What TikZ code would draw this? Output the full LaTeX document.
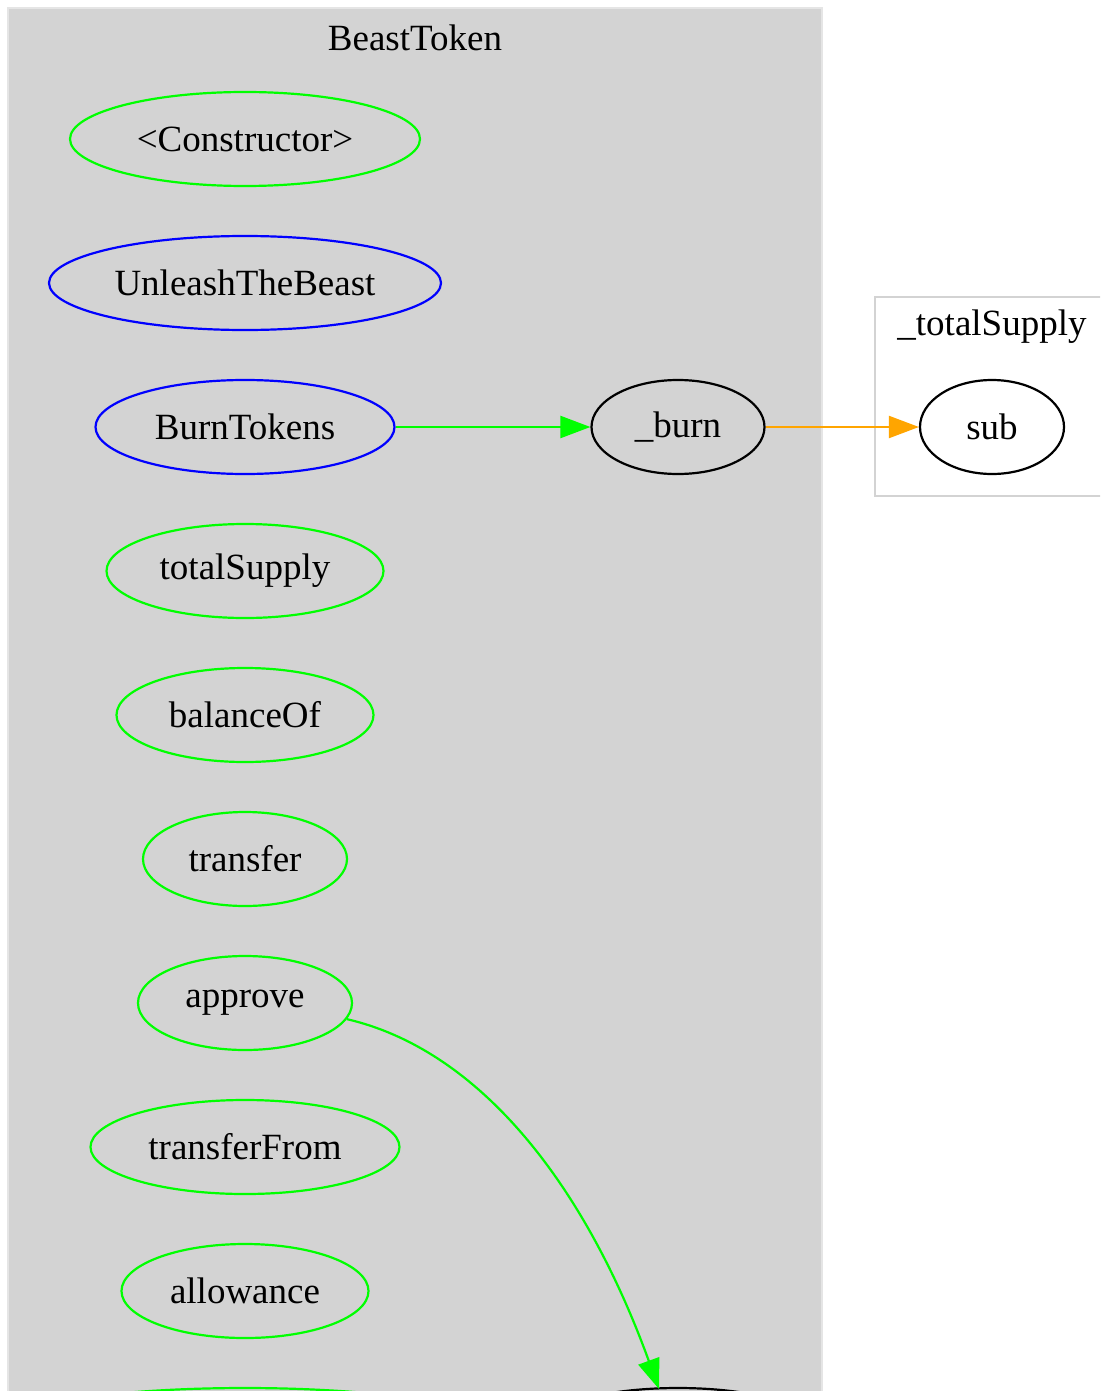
\documentclass[tikz,border=0pt]{standalone}
\usepackage{fontspec}
\setmainfont{Liberation Serif}
\usetikzlibrary{shapes.geometric,arrows.meta}
\definecolor{clgray}{HTML}{D3D3D3}
\definecolor{gvgreen}{HTML}{00FF00}
\definecolor{gvblue}{HTML}{0000FF}
\definecolor{gvorange}{HTML}{FFA500}
\begin{document}
\begin{tikzpicture}[x=1pt,y=-1pt,
  lbl/.style={font=\fontsize{37}{42}\selectfont},
  fn/.style={ellipse,draw,line width=2.2pt,minimum height=94pt,inner sep=0pt,lbl},
  gfn/.style={fn,draw=gvgreen},
  bfn/.style={fn,draw=gvblue},
  kfn/.style={fn,draw=black},
  edge/.style={line width=2.2pt,-{Triangle[length=30pt,width=22pt]}}]
\useasboundingbox (0,0) rectangle (1100,1391);
\clip (0,0) rectangle (1100,1391);
\fill[white] (0,0) rectangle (1100,1391);
% clusters
\draw[fill=clgray,draw=clgray!60!white,line width=1.5pt] (8,8) rectangle (822,1420);
\node[lbl] (tBeast) at (415,38) {BeastToken};
\draw[fill=white,draw=clgray,line width=1.5pt] (875,297) rectangle (1120,496);
\node[lbl] (tSupply) at (992,327) {\_totalSupply};
% nodes
\node[gfn,minimum width=350pt] (ctor) at (245,139) {<Constructor>};
\node[bfn,minimum width=392pt] (unleash) at (245,283) {UnleashTheBeast};
\node[bfn,minimum width=299pt] (burnt) at (245,427) {BurnTokens};
\node[gfn,minimum width=277pt] (tsup) at (245,571) {totalSupply};
\node[gfn,minimum width=257pt] (bal) at (245,715) {balanceOf};
\node[gfn,minimum width=204pt] (tr) at (245,859) {transfer};
\node[gfn,minimum width=214pt] (appr) at (245,1003) {approve};
\node[gfn,minimum width=309pt] (trf) at (245,1147) {transferFrom};
\node[gfn,minimum width=247pt] (allow) at (245,1291) {allowance};
\node[gfn,minimum width=540pt] (nextg) at (245,1435) {};
\node[kfn,minimum width=173pt] (burn) at (678,427) {\_burn};
\node[kfn,minimum width=300pt] (nextk) at (678,1435) {};
\node[kfn,minimum width=144pt] (sub) at (992,427) {sub};
\coordinate (ktop) at (659,1389);
% edges
\draw[edge,draw=gvgreen] (burnt.east) -- (burn.west);
\draw[edge,draw=gvorange] (burn.east) -- (sub.west);
\draw[edge,draw=gvgreen] (appr.-9) .. controls (480,1050) and (585,1185) .. (ktop);
\end{tikzpicture}
\end{document}
